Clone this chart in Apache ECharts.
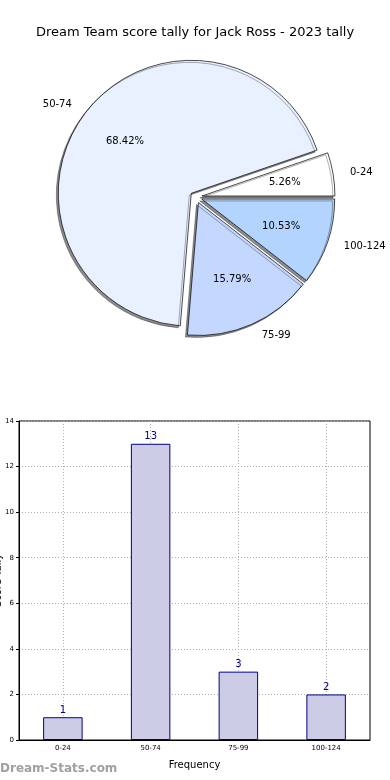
<!DOCTYPE html>
<html><head><meta charset="utf-8">
<script src="https://cdn.jsdelivr.net/npm/echarts@6/dist/echarts.min.js"></script>
<style>html,body{margin:0;padding:0;background:#fff}#c{width:390px;height:780px}</style>
</head><body><div id="c"></div>
<script>
const titleText = 'Dream Team score tally for Jack Ross - 2023 tally';
const categories = ['0-24', '50-74', '75-99', '100-124'];
const counts = [1, 13, 3, 2];
const pieColors = ['#ffffff', '#e9f0ff', '#c4d7ff', '#b3d4ff'];
const yTicks = [0, 2, 4, 6, 8, 10, 12, 14];
const xName = 'Frequency';
const yName = 'Score Tally';
const watermark = 'Dream-Stats.com';

const FONT = 'DejaVu Sans';
const C = [196, 197];
const R = 133;

const pieData = categories.map((n, i) => ({
  name: n, value: counts[i], selected: true,
  itemStyle: { color: pieColors[i] }
}));
const pieLabelData = categories.map((n, i) => ({ name: n, value: counts[i], selected: true }));

const chart = echarts.init(document.getElementById('c'), null, { renderer: 'canvas' });
chart.setOption({
  animation: false,
  backgroundColor: '#fff',
  textStyle: { fontFamily: FONT },
  title: {
    text: titleText, left: 'center', top: 21,
    textStyle: { fontFamily: FONT, fontSize: 13, fontWeight: 'normal', color: '#000' }
  },
  graphic: [{
    type: 'text', left: 0, top: 763,
    style: { text: watermark, font: 'bold 12px "DejaVu Sans"', fill: '#a0a0a0' }
  }],
  grid: {
    left: 19, right: 20, top: 421, bottom: 40,
    containLabel: false, outerBoundsMode: 'none',
    show: true, borderColor: '#000', borderWidth: 1, backgroundColor: 'transparent'
  },
  xAxis: {
    type: 'category', data: categories,
    name: xName, nameLocation: 'middle', nameGap: 20, nameMoveOverlap: false,
    nameTextStyle: { fontFamily: FONT, fontSize: 10, color: '#000' },
    axisLine: { lineStyle: { color: '#000' } },
    axisTick: { show: false, alignWithLabel: true },
    axisLabel: { fontFamily: FONT, fontSize: 7, color: '#000', margin: 5 },
    splitLine: { show: true, alignWithLabel: true, lineStyle: { color: '#b0b0b0', type: [1, 2] } }
  },
  yAxis: {
    type: 'value', min: yTicks[0], max: yTicks[yTicks.length - 1], interval: 2,
    name: yName, nameLocation: 'middle', nameGap: 16, nameMoveOverlap: false,
    nameTextStyle: { fontFamily: FONT, fontSize: 10, color: '#000' },
    axisLine: { show: true, lineStyle: { color: '#000' } },
    axisTick: { show: true, length: 3, lineStyle: { color: '#000' } },
    axisLabel: { fontFamily: FONT, fontSize: 7, color: '#000', margin: 5 },
    splitLine: { show: true, lineStyle: { color: '#b0b0b0', type: [1, 2] } }
  },
  series: [
    {
      type: 'pie', center: C, radius: [0, R],
      startAngle: 0, clockwise: false,
      selectedMode: 'multiple', selectedOffset: 6,
      silent: true, avoidLabelOverlap: false,
      data: pieData,
      itemStyle: {
        borderColor: '#000', borderWidth: 0.7,
        shadowColor: 'rgba(0,0,0,0.45)', shadowBlur: 0, shadowOffsetX: -2, shadowOffsetY: 2
      },
      label: {
        show: true, position: 'outside', fontFamily: FONT, fontSize: 10, color: '#000',
        formatter: '{b}'
      },
      labelLine: { show: false, length: 12, length2: 0 },
      emphasis: { disabled: true }
    },
    {
      type: 'pie', center: C, radius: [0, 162],
      startAngle: 0, clockwise: false,
      selectedMode: 'multiple', selectedOffset: 6,
      silent: true, avoidLabelOverlap: false,
      data: pieLabelData,
      itemStyle: { color: 'rgba(0,0,0,0)', borderWidth: 0 },
      label: {
        show: true, position: 'inside', fontFamily: FONT, fontSize: 10, color: '#000',
        formatter: p => p.percent.toFixed(2) + '%'
      },
      labelLine: { show: false },
      emphasis: { disabled: true }
    },
    {
      type: 'bar', data: counts, barWidth: '45%',
      itemStyle: { color: '#ccccE6', borderColor: '#00008b', borderWidth: 1 },
      label: { show: true, position: 'top', distance: 2, fontFamily: FONT, fontSize: 10, color: '#00008b' },
      emphasis: { disabled: true }
    }
  ]
});
</script></body></html>
